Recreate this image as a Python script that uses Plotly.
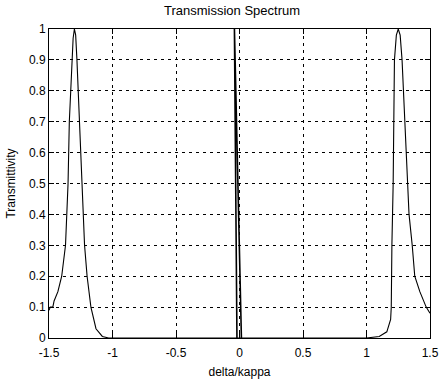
import plotly.graph_objects as go

# Side-band transmission peaks
delta = [-1.50, -1.49, -1.47, -1.46, -1.43, -1.40, -1.37, -1.36, -1.35, -1.34, -1.33, -1.32, -1.31, -1.30,
         -1.29, -1.28, -1.26, -1.24, -1.23, -1.22, -1.20, -1.17, -1.13, -1.08, -1.03,
         -0.50, -0.045,
         0.015, 0.50, 1.00, 1.10, 1.16, 1.19, 1.195, 1.20, 1.21, 1.22, 1.235, 1.25,
         1.265, 1.28, 1.30, 1.32, 1.335, 1.36, 1.38, 1.42, 1.47, 1.50]
trans = [0.09, 0.10, 0.10, 0.12, 0.15, 0.20, 0.30, 0.40, 0.50, 0.70, 0.80, 0.90, 0.97, 1.00,
         0.98, 0.90, 0.70, 0.50, 0.40, 0.30, 0.20, 0.10, 0.03, 0.005, 0.0,
         0.0, 0.0,
         0.0, 0.0, 0.0, 0.005, 0.02, 0.06, 0.10, 0.30, 0.50, 0.90, 0.98, 1.00,
         0.98, 0.90, 0.70, 0.50, 0.40, 0.30, 0.20, 0.15, 0.10, 0.08]

# Narrow central resonance
delta_c = [-0.020, -0.040, 0.015]
trans_c = [0.0, 1.00, 0.0]

x_ticks = [-1.5, -1, -0.5, 0, 0.5, 1, 1.5]
x_labels = ["-1.5", "-1", "-0.5", "0", "0.5", "1", "1.5"]
y_ticks = [0, 0.1, 0.2, 0.3, 0.4, 0.5, 0.6, 0.7, 0.8, 0.9, 1]
y_labels = ["0", "0.1", "0.2", "0.3", "0.4", "0.5", "0.6", "0.7", "0.8", "0.9", "1"]

fig = go.Figure()
fig.add_trace(go.Scatter(x=delta, y=trans, mode="lines",
                         line=dict(color="black", width=1.1), hoverinfo="skip"))
fig.add_trace(go.Scatter(x=delta_c, y=trans_c, mode="lines",
                         line=dict(color="black", width=1.6), hoverinfo="skip"))

font = dict(family="Liberation Sans, Arial, sans-serif", size=12, color="black")
axis_common = dict(showline=True, linecolor="black", linewidth=1, mirror="ticks",
                   ticks="inside", ticklen=5, tickcolor="black",
                   showgrid=True, gridcolor="black", gridwidth=1, griddash="3px,4px",
                   zeroline=False, tickfont=font, automargin=False)

fig.update_layout(
    width=440, height=379,
    margin=dict(l=49, r=10, t=29, b=41),
    paper_bgcolor="white", plot_bgcolor="white",
    showlegend=False,
    font=font,
    title=dict(text="Transmission Spectrum", x=232 / 440, xanchor="center",
               y=1 - 10 / 379, yanchor="middle", yref="container",
               font=dict(family="Liberation Sans, Arial, sans-serif", size=13, color="black")),
    xaxis=dict(range=[-1.5, 1.5], tickvals=x_ticks, ticktext=x_labels, ticklabelstandoff=4,
               title=dict(text="delta/kappa", standoff=8, font=font), **axis_common),
    yaxis=dict(range=[0, 1], tickvals=y_ticks, ticktext=y_labels,
               title=dict(text="Transmittivity", standoff=10, font=font), **axis_common),
)

fig.write_html("out.html")
